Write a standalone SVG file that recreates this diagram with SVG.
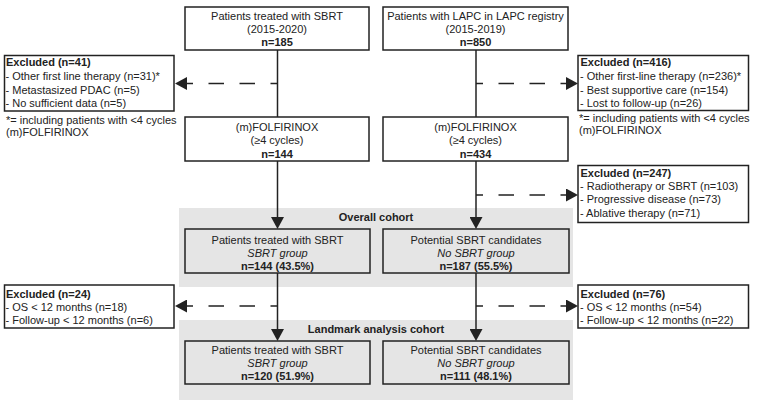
<svg xmlns="http://www.w3.org/2000/svg" width="762" height="408" viewBox="0 0 762 408">
<defs>
<marker id="ah" markerUnits="userSpaceOnUse" markerWidth="12" markerHeight="13" viewBox="0 0 12 13" refX="0" refY="6.5" orient="auto">
<path d="M0,0 L12,6.5 L0,13 z" fill="#222"/>
</marker>
<style>
text{font-family:"Liberation Sans",Arial,sans-serif;font-size:11px;fill:#222}
.c{text-anchor:middle}
.b{font-weight:bold}
.i{font-style:italic}
.box{fill:#fff;stroke:#222;stroke-width:1.5}
.gbox{fill:#e5e5e5;stroke:#222;stroke-width:1.5}
.band{fill:#e5e5e5}
.ln{stroke:#222;stroke-width:1.5;fill:none}
.dl{stroke:#222;stroke-width:1.5;fill:none;stroke-dasharray:15.5 15.5;stroke-dashoffset:8.5}
</style>
</defs>
<rect class="band" x="179" y="208" width="394" height="79"/>
<rect class="band" x="179" y="320" width="394" height="80"/>
<text class="c b" x="376" y="221">Overall cohort</text>
<text class="c b" x="376" y="332.5">Landmark analysis cohort</text>

<g id="connectors">
<line class="ln" x1="277.5" y1="50" x2="277.5" y2="117"/>
<line class="ln" x1="277.5" y1="161" x2="277.5" y2="217" marker-end="url(#ah)"/>
<line class="ln" x1="277.5" y1="273" x2="277.5" y2="329" marker-end="url(#ah)"/>
<line class="ln" x1="476" y1="50" x2="476" y2="117"/>
<line class="ln" x1="476" y1="161" x2="476" y2="217" marker-end="url(#ah)"/>
<line class="ln" x1="476" y1="273" x2="476" y2="329" marker-end="url(#ah)"/>
<line class="dl" x1="277.5" y1="83.5" x2="187" y2="83.5" marker-end="url(#ah)"/>
<line class="dl" x1="476" y1="83.5" x2="566" y2="83.5" marker-end="url(#ah)"/>
<line class="dl" x1="476" y1="195" x2="566" y2="195" marker-end="url(#ah)"/>
<line class="dl" x1="277.5" y1="306" x2="187" y2="306" marker-end="url(#ah)"/>
<line class="dl" x1="476" y1="306" x2="566" y2="306" marker-end="url(#ah)"/>
</g>

<g id="sbrt-source">
<rect class="box" x="185" y="7" width="184" height="43"/>
<text class="c" x="277" y="19.5">Patients treated with SBRT</text>
<text class="c" x="277" y="33">(2015-2020)</text>
<text class="c b" x="277" y="46">n=185</text>
</g>
<g id="lapc-source">
<rect class="box" x="383" y="7" width="185" height="43"/>
<text class="c" x="475.5" y="19.5">Patients with LAPC in LAPC registry</text>
<text class="c" x="475.5" y="33">(2015-2019)</text>
<text class="c b" x="475.5" y="46">n=850</text>
</g>
<g id="excl-left-1">
<rect class="box" x="4.5" y="55.5" width="169.5" height="55.5"/>
<text class="b" x="6" y="66">Excluded (n=41)</text>
<text x="5.5" y="80">- Other first line therapy (n=31)*</text>
<text x="5.5" y="93.5">- Metastasized PDAC (n=5)</text>
<text x="5.5" y="107">- No sufficient data (n=5)</text>
<text x="6" y="123.5">*= including patients with &lt;4 cycles</text>
<text x="6" y="136">(m)FOLFIRINOX</text>
</g>
<g id="excl-right-1">
<rect class="box" x="578" y="55.5" width="170.5" height="55"/>
<text class="b" x="580.5" y="66">Excluded (n=416)</text>
<text x="580" y="80">- Other first-line therapy (n=236)*</text>
<text x="580" y="93.5">- Best supportive care (n=154)</text>
<text x="580" y="107">- Lost to follow-up (n=26)</text>
<text x="579" y="121.5">*= including patients with &lt;4 cycles</text>
<text x="579" y="134">(m)FOLFIRINOX</text>
</g>
<g id="folfirinox-sbrt">
<rect class="box" x="185" y="117" width="184" height="44"/>
<text class="c" x="277" y="130.5">(m)FOLFIRINOX</text>
<text class="c" x="277" y="144">(≥4 cycles)</text>
<text class="c b" x="277" y="157.5">n=144</text>
</g>
<g id="folfirinox-lapc">
<rect class="box" x="383" y="117" width="185" height="44"/>
<text class="c" x="475.5" y="130.5">(m)FOLFIRINOX</text>
<text class="c" x="475.5" y="144">(≥4 cycles)</text>
<text class="c b" x="475.5" y="157.5">n=434</text>
</g>
<g id="excl-right-2">
<rect class="box" x="578" y="165.5" width="170.5" height="57"/>
<text class="b" x="580.5" y="177">Excluded (n=247)</text>
<text x="580" y="190">- Radiotherapy or SBRT (n=103)</text>
<text x="580" y="203">- Progressive disease (n=73)</text>
<text x="580" y="216.5">- Ablative therapy (n=71)</text>
</g>
<g id="overall-sbrt">
<rect class="gbox" x="185" y="229" width="185" height="44"/>
<text class="c" x="277.5" y="244">Patients treated with SBRT</text>
<text class="c i" x="277.5" y="257">SBRT group</text>
<text class="c b" x="277.5" y="270">n=144 (43.5%)</text>
</g>
<g id="overall-nosbrt">
<rect class="gbox" x="383" y="229" width="186" height="44"/>
<text class="c" x="476" y="244">Potential SBRT candidates</text>
<text class="c i" x="476" y="257">No SBRT group</text>
<text class="c b" x="476" y="270">n=187 (55.5%)</text>
</g>
<g id="excl-left-3">
<rect class="box" x="4.5" y="285" width="169.5" height="43"/>
<text class="b" x="6" y="298">Excluded (n=24)</text>
<text x="5.5" y="310.5">- OS &lt; 12 months (n=18)</text>
<text x="5.5" y="323.5">- Follow-up &lt; 12 months (n=6)</text>
</g>
<g id="excl-right-3">
<rect class="box" x="578" y="285" width="170.5" height="43"/>
<text class="b" x="580.5" y="298">Excluded (n=76)</text>
<text x="580" y="310.5">- OS &lt; 12 months (n=54)</text>
<text x="580" y="323.5">- Follow-up &lt; 12 months (n=22)</text>
</g>
<g id="landmark-sbrt">
<rect class="gbox" x="185" y="341" width="185" height="43"/>
<text class="c" x="277.5" y="354">Patients treated with SBRT</text>
<text class="c i" x="277.5" y="367">SBRT group</text>
<text class="c b" x="277.5" y="380">n=120 (51.9%)</text>
</g>
<g id="landmark-nosbrt">
<rect class="gbox" x="383" y="341" width="186" height="43"/>
<text class="c" x="476" y="354">Potential SBRT candidates</text>
<text class="c i" x="476" y="367">No SBRT group</text>
<text class="c b" x="476" y="380">n=111 (48.1%)</text>
</g>
</svg>
